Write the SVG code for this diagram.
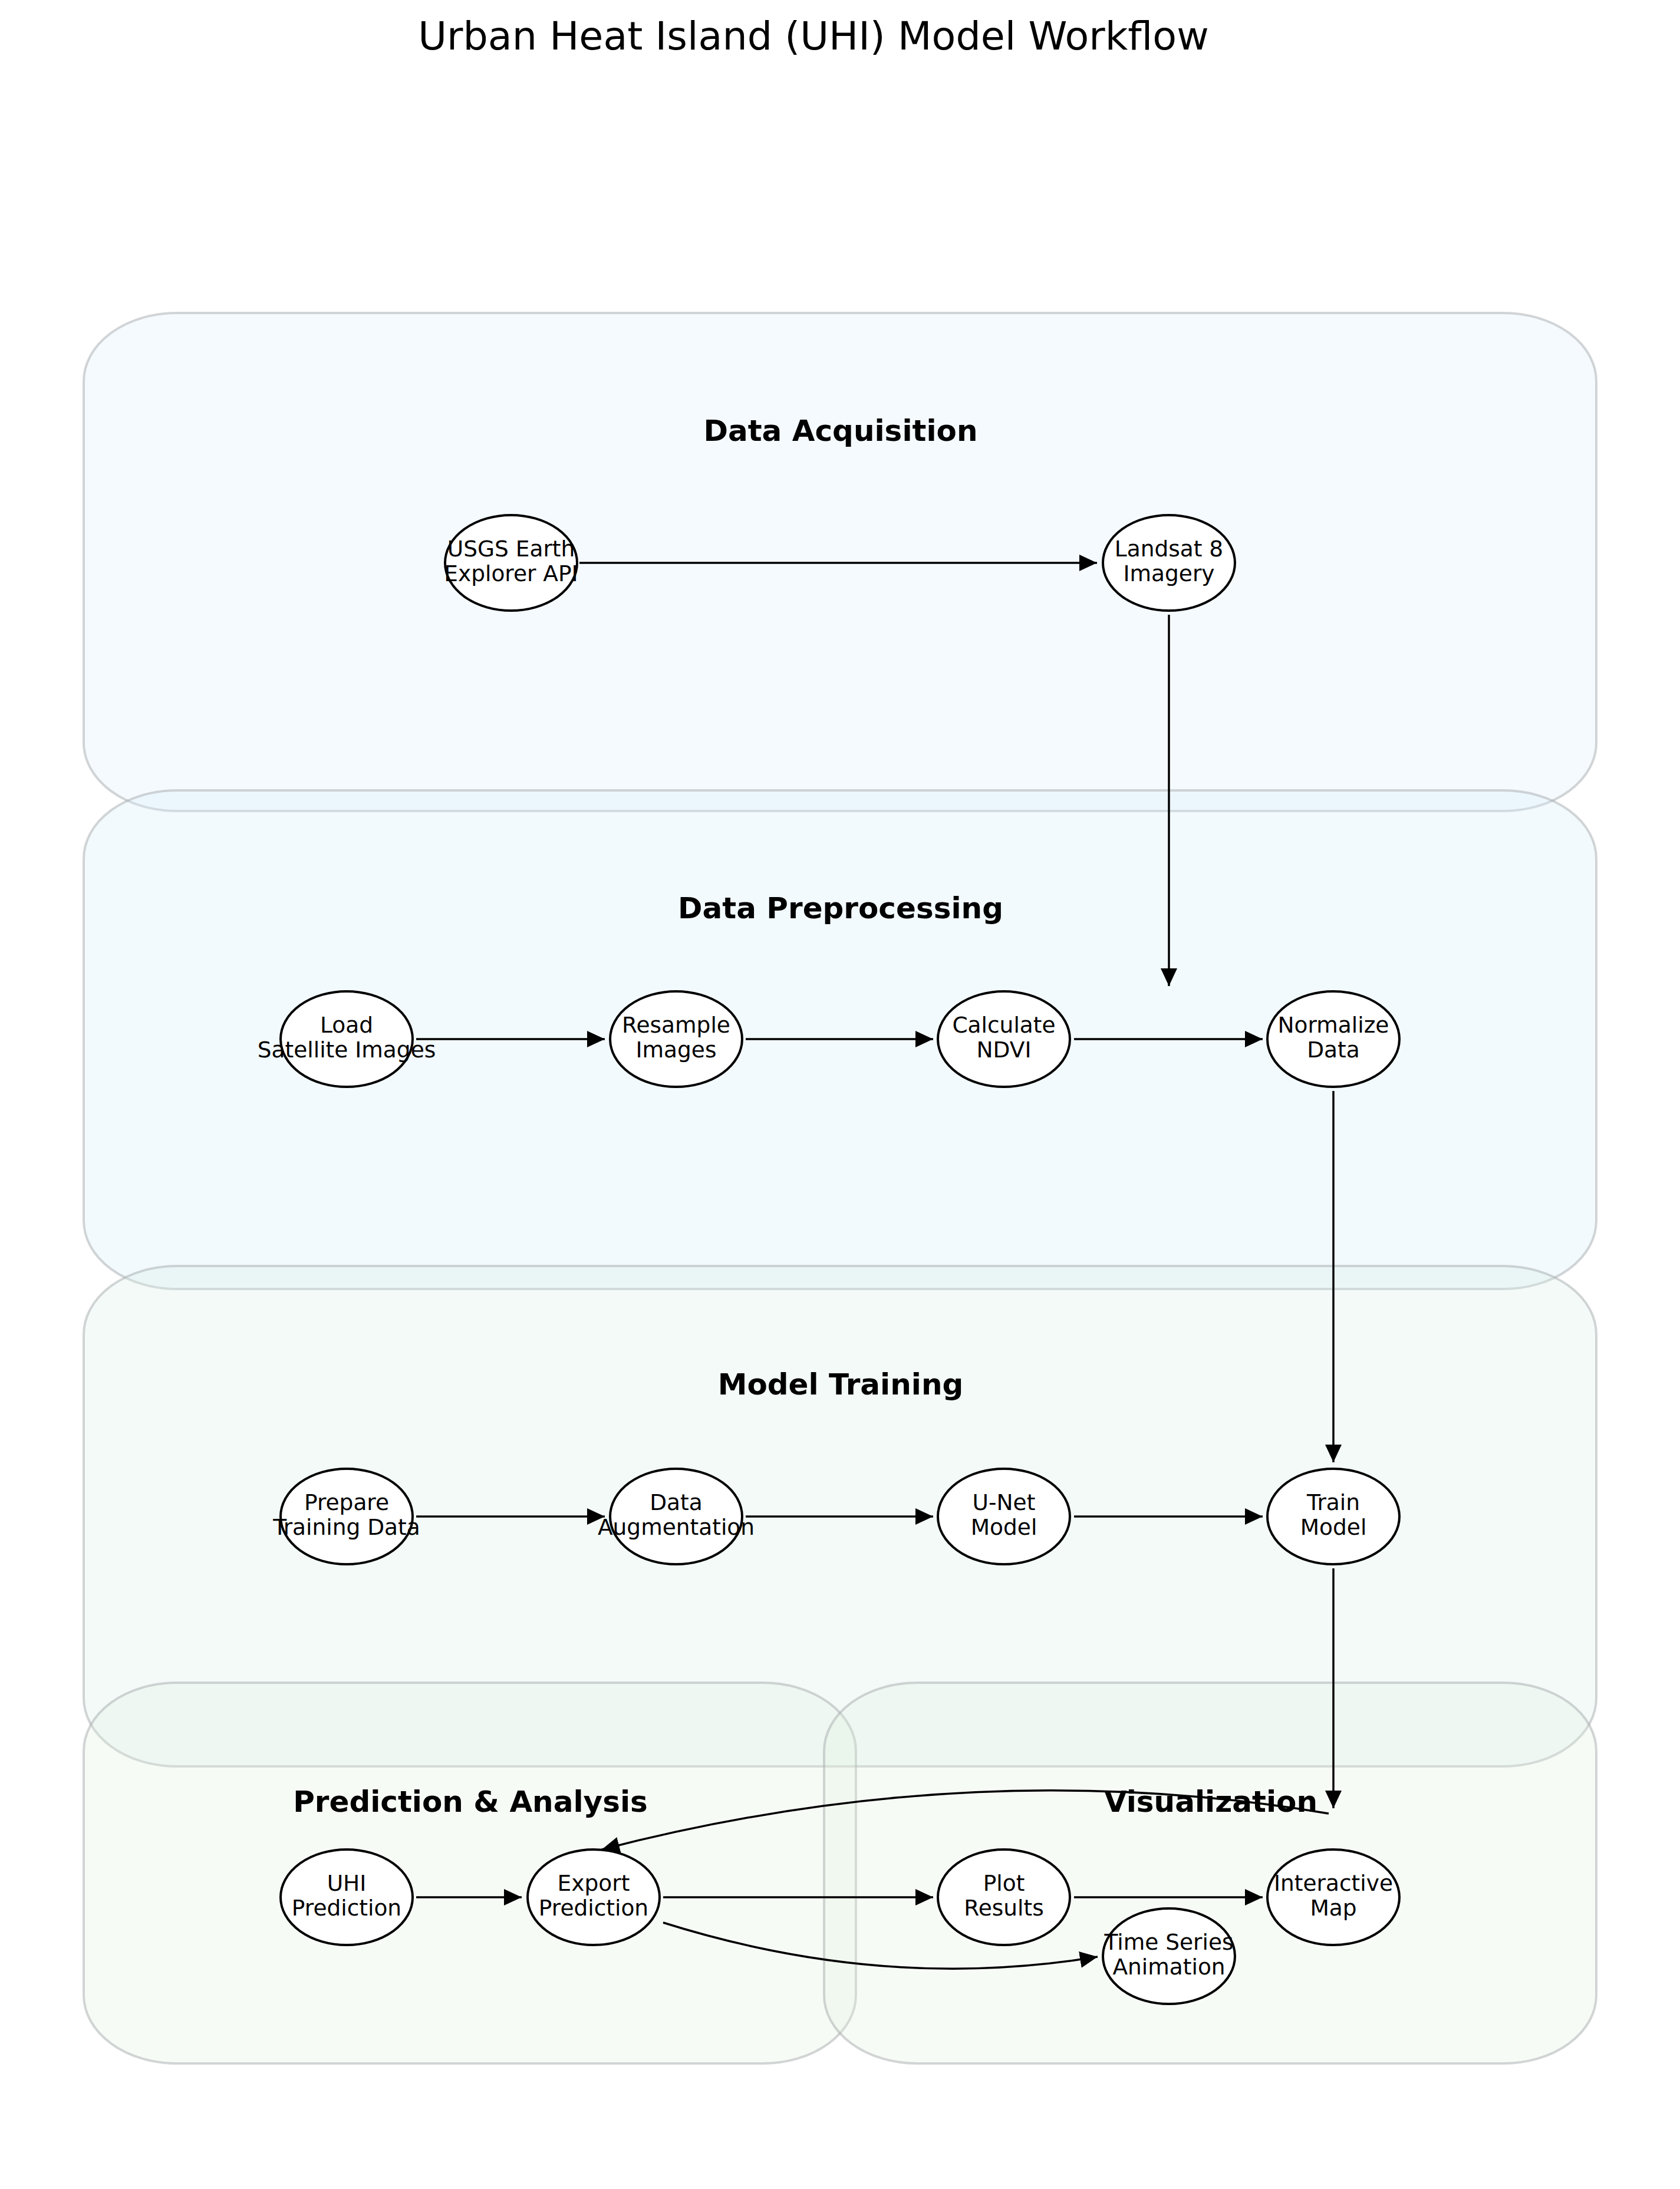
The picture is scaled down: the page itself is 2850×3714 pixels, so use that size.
<svg xmlns="http://www.w3.org/2000/svg" width="2850" height="3714" viewBox="0 0 2850 3714">
<style>
  .title { font-family: "DejaVu Sans", sans-serif; font-size: 66.7px; fill: #000; text-anchor: middle; }
  .sec { font-family: "DejaVu Sans", sans-serif; font-size: 50px; font-weight: bold; fill: #000; text-anchor: middle; }
  .lbl { font-family: "DejaVu Sans", sans-serif; font-size: 37.5px; fill: #000; text-anchor: middle; }
  .node ellipse { fill: #ffffff; stroke: #000; stroke-width: 4; }
  .box { stroke: #a8acae; stroke-opacity: 0.5; stroke-width: 4; }
  .edge { fill: none; stroke: #000; stroke-width: 3.5; }
</style>
<defs>
  <marker id="ah" markerUnits="userSpaceOnUse" markerWidth="30" markerHeight="30" refX="30" refY="14" orient="auto">
    <path d="M0,0 L30,14 L0,28 Z" fill="#000"/>
  </marker>
</defs>
<rect x="0" y="0" width="2850" height="3714" fill="#ffffff"/>
<text class="title" x="1380" y="84">Urban Heat Island (UHI) Model Workflow</text>

<g id="sections">
  <g id="sec-acq">
    <path class="box" fill="#deeeff" fill-opacity="0.3" d="M300,531 H2550 A158,116 0 0 1 2708,647 V1260 A158,116 0 0 1 2550,1376 H300 A158,116 0 0 1 142,1260 V647 A158,116 0 0 1 300,531 Z"/>
    <text class="sec" x="1426" y="748">Data Acquisition</text>
  </g>
  <g id="sec-pre">
    <path class="box" fill="#d7eef8" fill-opacity="0.3" d="M300,1341 H2550 A158,116 0 0 1 2708,1457 V2071 A158,116 0 0 1 2550,2187 H300 A158,116 0 0 1 142,2071 V1457 A158,116 0 0 1 300,1341 Z"/>
    <text class="sec" x="1426" y="1558">Data Preprocessing</text>
  </g>
  <g id="sec-train">
    <path class="box" fill="#d8ede9" fill-opacity="0.3" d="M300,2148 H2550 A158,116 0 0 1 2708,2264 V2881 A158,116 0 0 1 2550,2997 H300 A158,116 0 0 1 142,2881 V2264 A158,116 0 0 1 300,2148 Z"/>
    <text class="sec" x="1426" y="2366">Model Training</text>
  </g>
  <g id="sec-pred">
    <path class="box" fill="#e3efdf" fill-opacity="0.27" d="M300,2855 H1294 A158,116 0 0 1 1452,2971 V3385 A158,116 0 0 1 1294,3501 H300 A158,116 0 0 1 142,3385 V2971 A158,116 0 0 1 300,2855 Z"/>
    <text class="sec" x="798" y="3074">Prediction &amp; Analysis</text>
  </g>
  <g id="sec-vis">
    <path class="box" fill="#e3efdf" fill-opacity="0.27" d="M1556,2855 H2550 A158,116 0 0 1 2708,2971 V3385 A158,116 0 0 1 2550,3501 H1556 A158,116 0 0 1 1398,3385 V2971 A158,116 0 0 1 1556,2855 Z"/>
    <text class="sec" x="2054" y="3074">Visualization</text>
  </g>
</g>

<g id="connectors">
  <line class="edge" x1="983" y1="955" x2="1861" y2="955" marker-end="url(#ah)"/>
  <line class="edge" x1="1983" y1="1043" x2="1983" y2="1673" marker-end="url(#ah)"/>
  <line class="edge" x1="706" y1="1763" x2="1026" y2="1763" marker-end="url(#ah)"/>
  <line class="edge" x1="1265" y1="1763" x2="1583" y2="1763" marker-end="url(#ah)"/>
  <line class="edge" x1="1822" y1="1763" x2="2142" y2="1763" marker-end="url(#ah)"/>
  <line class="edge" x1="2262" y1="1851" x2="2262" y2="2481" marker-end="url(#ah)"/>
  <line class="edge" x1="706" y1="2573" x2="1026" y2="2573" marker-end="url(#ah)"/>
  <line class="edge" x1="1265" y1="2573" x2="1583" y2="2573" marker-end="url(#ah)"/>
  <line class="edge" x1="1822" y1="2573" x2="2142" y2="2573" marker-end="url(#ah)"/>
  <line class="edge" x1="2262" y1="2661" x2="2262" y2="3068" marker-end="url(#ah)"/>
  <path class="edge" d="M2254,3077 Q1650,2975 1021,3138" marker-end="url(#ah)"/>
  <line class="edge" x1="706" y1="3219" x2="885" y2="3219" marker-end="url(#ah)"/>
  <line class="edge" x1="1125" y1="3219" x2="1583" y2="3219" marker-end="url(#ah)"/>
  <line class="edge" x1="1822" y1="3219" x2="2142" y2="3219" marker-end="url(#ah)"/>
  <path class="edge" d="M1125,3262 Q1500,3380 1862,3320" marker-end="url(#ah)"/>
</g>

<g id="nodes">
  <g id="n-usgs" class="node"><ellipse cx="867" cy="955" rx="112" ry="81"/><text class="lbl" x="867" y="944">USGS Earth</text><text class="lbl" x="867" y="986">Explorer API</text></g>
  <g id="n-landsat" class="node"><ellipse cx="1983" cy="955" rx="112" ry="81"/><text class="lbl" x="1983" y="944">Landsat 8</text><text class="lbl" x="1983" y="986">Imagery</text></g>
  <g id="n-load" class="node"><ellipse cx="588" cy="1763" rx="112" ry="81"/><text class="lbl" x="588" y="1752">Load</text><text class="lbl" x="588" y="1794">Satellite Images</text></g>
  <g id="n-resample" class="node"><ellipse cx="1147" cy="1763" rx="112" ry="81"/><text class="lbl" x="1147" y="1752">Resample</text><text class="lbl" x="1147" y="1794">Images</text></g>
  <g id="n-ndvi" class="node"><ellipse cx="1703" cy="1763" rx="112" ry="81"/><text class="lbl" x="1703" y="1752">Calculate</text><text class="lbl" x="1703" y="1794">NDVI</text></g>
  <g id="n-normalize" class="node"><ellipse cx="2262" cy="1763" rx="112" ry="81"/><text class="lbl" x="2262" y="1752">Normalize</text><text class="lbl" x="2262" y="1794">Data</text></g>
  <g id="n-prepare" class="node"><ellipse cx="588" cy="2573" rx="112" ry="81"/><text class="lbl" x="588" y="2562">Prepare</text><text class="lbl" x="588" y="2604">Training Data</text></g>
  <g id="n-augment" class="node"><ellipse cx="1147" cy="2573" rx="112" ry="81"/><text class="lbl" x="1147" y="2562">Data</text><text class="lbl" x="1147" y="2604">Augmentation</text></g>
  <g id="n-unet" class="node"><ellipse cx="1703" cy="2573" rx="112" ry="81"/><text class="lbl" x="1703" y="2562">U-Net</text><text class="lbl" x="1703" y="2604">Model</text></g>
  <g id="n-train" class="node"><ellipse cx="2262" cy="2573" rx="112" ry="81"/><text class="lbl" x="2262" y="2562">Train</text><text class="lbl" x="2262" y="2604">Model</text></g>
  <g id="n-uhi" class="node"><ellipse cx="588" cy="3219" rx="112" ry="81"/><text class="lbl" x="588" y="3208">UHI</text><text class="lbl" x="588" y="3250">Prediction</text></g>
  <g id="n-export" class="node"><ellipse cx="1007" cy="3219" rx="112" ry="81"/><text class="lbl" x="1007" y="3208">Export</text><text class="lbl" x="1007" y="3250">Prediction</text></g>
  <g id="n-plot" class="node"><ellipse cx="1703" cy="3219" rx="112" ry="81"/><text class="lbl" x="1703" y="3208">Plot</text><text class="lbl" x="1703" y="3250">Results</text></g>
  <g id="n-map" class="node"><ellipse cx="2262" cy="3219" rx="112" ry="81"/><text class="lbl" x="2262" y="3208">Interactive</text><text class="lbl" x="2262" y="3250">Map</text></g>
  <g id="n-anim" class="node"><ellipse cx="1983" cy="3319" rx="112" ry="81"/><text class="lbl" x="1983" y="3308">Time Series</text><text class="lbl" x="1983" y="3350">Animation</text></g>
</g>
</svg>
